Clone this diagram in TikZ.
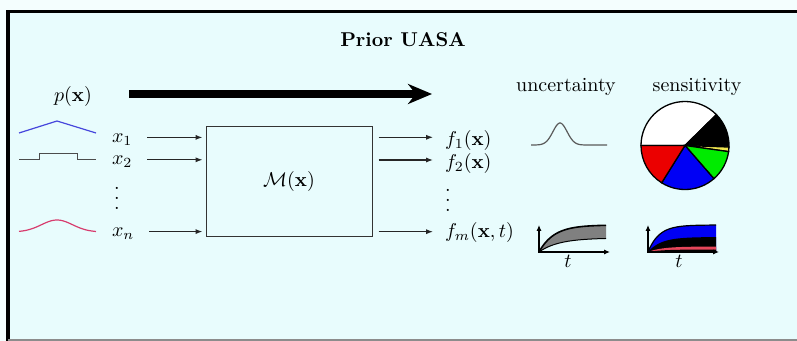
\documentclass[tikz,border=0pt]{standalone}
\usetikzlibrary{arrows.meta}
\definecolor{bgin}{RGB}{232,252,253}
\definecolor{bgout}{RGB}{244,254,254}
\definecolor{pdfblue}{RGB}{70,70,220}
\definecolor{pdfpink}{RGB}{215,60,110}
\definecolor{curvegray}{RGB}{90,90,90}
\definecolor{bandgray}{RGB}{128,128,128}
\definecolor{pieyellow}{RGB}{240,230,80}
\definecolor{piegreen}{RGB}{0,235,0}
\definecolor{pieblue}{RGB}{0,0,245}
\definecolor{piered}{RGB}{235,0,0}
\definecolor{stripred}{RGB}{230,70,90}
\newcommand{\tallvdots}{\vbox{\baselineskip5pt\lineskiplimit0pt\hbox{.}\hbox{.}\hbox{.}}}
\begin{document}
\begin{tikzpicture}[x=0.5pt,y=-0.5pt,
 lbl/.style={inner sep=0pt, outer sep=0pt},
 arr/.style={line width=0.6pt, draw=black!85, -{Latex[length=3.5pt,width=2.6pt]}},
 pdfline/.style={line width=0.6pt},
 axis/.style={line width=0.7pt, {Latex[length=3pt,width=2.6pt]}-{Latex[length=3pt,width=2.6pt]}},
 slice/.style={draw=black, line width=0.65pt},
]
\useasboundingbox (0,0) rectangle (797,341);
\fill[bgout] (0,0) rectangle (797,341);
\fill[bgin] (8,11.5) rectangle (797,341);
\draw[line width=1.6pt] (8,341) -- (8,11.5) -- (797,11.5);
\draw[line width=0.8pt, black!45] (8,340) -- (797,340);

% title and big arrow
\node[lbl, anchor=base] (title) at (403,47) {\bfseries Prior UASA};
\node[lbl, anchor=base] (px) at (73,102) {$p(\mathbf{x})$};
\coordinate (pa) at (129,94);
\coordinate (pb) at (432,94);
\draw[line width=4pt, -{Stealth[length=12pt,width=10pt]}] (pa) -- (pb);

% input distributions
\draw[pdfline, pdfblue] (19,133) -- (57,121) -- (96,133);
\draw[line width=0.5pt, black!70] (19,160) -- (39,160) -- (39,154) -- (77,154) -- (77,160) -- (96,160);
\draw[pdfline, pdfpink] plot[domain=19:96, samples=40, smooth] (\x, {232-12*exp(-((\x-57)/22)^2)});

% input labels
\node[lbl, anchor=base west] (x1) at (112,143) {$x_1$};
\node[lbl, anchor=base west] (x2) at (112,165) {$x_2$};
\node[lbl, anchor=base] (xd) at (117,209.5) {\tallvdots};
\node[lbl, anchor=base west] (xn) at (112,237) {$x_n$};

% model box
\node[draw=black!80, line width=0.5pt, minimum width=83pt, minimum height=55pt, inner sep=0pt] (M) at (289,182) {$\mathcal{M}(\mathbf{x})$};

\draw[arr, shorten >=1.5pt] ([xshift=7.5pt,yshift=2.8pt]x1.base east) -- ([yshift=2.8pt]x1.base east -| M.west);
\draw[arr, shorten >=1.5pt] ([xshift=7.5pt,yshift=2.6pt]x2.base east) -- ([yshift=2.6pt]x2.base east -| M.west);
\draw[arr, shorten >=1.5pt] ([xshift=7.5pt,yshift=2.7pt]xn.base east) -- ([yshift=2.7pt]xn.base east -| M.west);

% output labels
\node[lbl, anchor=base west] (f1) at (445,146) {$f_1(\mathbf{x})$};
\node[lbl, anchor=base west] (f2) at (445,169) {$f_2(\mathbf{x})$};
\node[lbl, anchor=base] (fd) at (448,211.5) {\tallvdots};
\node[lbl, anchor=base west] (fm) at (445,238) {$f_m(\mathbf{x},t)$};

\draw[arr, shorten <=3pt] ([yshift=4.35pt]f1.base west -| M.east) -- ([xshift=-6pt,yshift=4.35pt]f1.base west);
\draw[arr, shorten <=3pt] ([yshift=4.5pt]f2.base west -| M.east) -- ([xshift=-6pt,yshift=4.5pt]f2.base west);
\draw[arr, shorten <=3pt] ([yshift=3.15pt]fm.base west -| M.east) -- ([xshift=-6pt,yshift=3.15pt]fm.base west);

% headers
\node[lbl, anchor=base] (unc) at (566,92) {uncertainty};
\node[lbl, anchor=base] (sen) at (697,92) {sensitivity};

% uncertainty gaussian
\draw[line width=0.6pt, curvegray] plot[domain=531:607, samples=60, smooth] (\x,{145-22*exp(-((\x-560)/10)^2)});

% sensitivity pie
\begin{scope}[shift={(685,145.5)}, y=0.5pt]
 \filldraw[slice, fill=white] (0,0) -- (44.5:44) arc[start angle=44.5, end angle=180, radius=44] -- cycle;
 \filldraw[slice, fill=black] (0,0) -- (-2:44) arc[start angle=-2, end angle=44.5, radius=44] -- cycle;
 \filldraw[slice, fill=pieyellow] (0,0) -- (-8:44) arc[start angle=-8, end angle=-2, radius=44] -- cycle;
 \filldraw[slice, fill=piegreen] (0,0) -- (-49:44) arc[start angle=-49, end angle=-8, radius=44] -- cycle;
 \filldraw[slice, fill=pieblue] (0,0) -- (-122:44) arc[start angle=-122, end angle=-49, radius=44] -- cycle;
 \filldraw[slice, fill=piered] (0,0) -- (-180:44) arc[start angle=-180, end angle=-122, radius=44] -- cycle;
\end{scope}

% uncertainty time plot
\fill[bandgray] plot[domain=539:606, samples=40, smooth] (\x,{252-27*(1-exp(-(\x-539)/15))}) -- plot[domain=606:539, samples=40, smooth] (\x,{252-14*(1-exp(-(\x-539)/20))}) -- cycle;
\draw[line width=0.8pt] plot[domain=539:606, samples=40, smooth] (\x,{252-27*(1-exp(-(\x-539)/15))});
\draw[line width=0.5pt] plot[domain=539:606, samples=40, smooth] (\x,{252-14*(1-exp(-(\x-539)/20))});
\coordinate (uo) at (539,252);
\coordinate (uy) at (539,225);
\coordinate (ux) at (610,252);
\draw[axis] (uy) -- (uo) -- (ux);
\node[lbl, anchor=base] (ut) at (568,268) {$t$};

% sensitivity time plot
\fill[pieblue] plot[domain=648:716, samples=40, smooth] (\x,{252-27*(1-exp(-(\x-648)/11))}) -- (716,252) -- cycle;
\fill[black] plot[domain=648:716, samples=40, smooth] (\x,{252-15*(1-exp(-(\x-648)/13))}) -- (716,252) -- cycle;
\fill[stripred] plot[domain=648:716, samples=40, smooth] (\x,{252-5.5*(1-exp(-(\x-648)/14))}) -- (716,252) -- cycle;
\fill[black] plot[domain=648:716, samples=40, smooth] (\x,{252-2.5*(1-exp(-(\x-648)/14))}) -- (716,252) -- cycle;
\draw[line width=0.6pt] plot[domain=648:716, samples=40, smooth] (\x,{252-27*(1-exp(-(\x-648)/11))});
\coordinate (so) at (648,252);
\coordinate (sy) at (648,225);
\coordinate (sx) at (719,252);
\draw[axis] (sy) -- (so) -- (sx);
\node[lbl, anchor=base] (st) at (679,268) {$t$};
\end{tikzpicture}
\end{document}
